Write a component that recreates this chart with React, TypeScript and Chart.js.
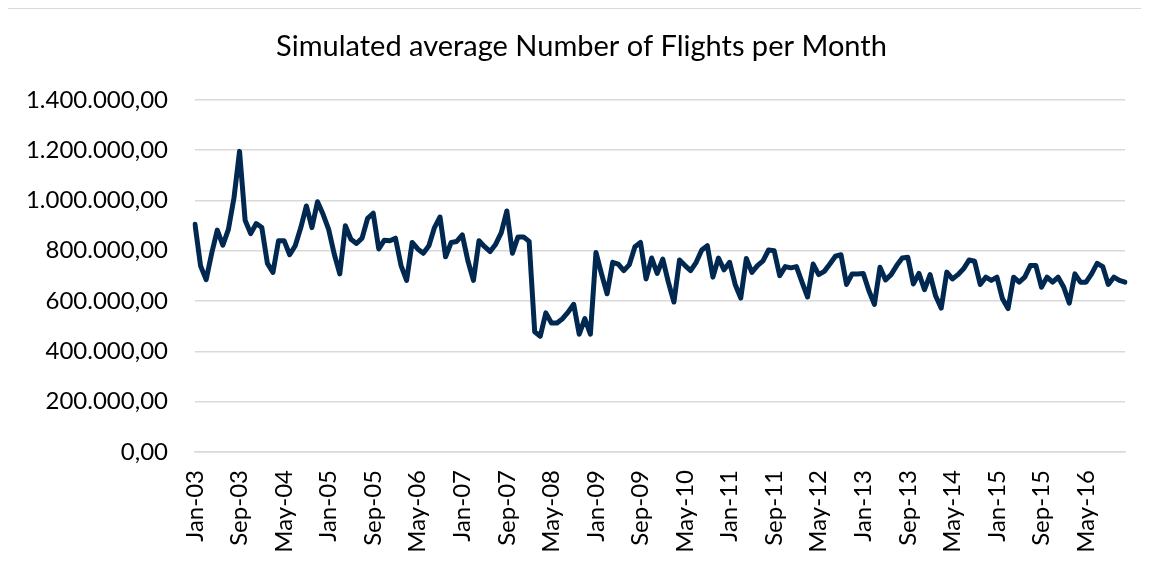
import React, { useEffect, useRef } from "react";
import { Chart, registerables } from "chart.js";

Chart.register(...registerables);

const TITLE = "Simulated average Number of Flights per Month";
const MONTHS = ["Jan", "Feb", "Mar", "Apr", "May", "Jun", "Jul", "Aug", "Sep", "Oct", "Nov", "Dec"];
const YEARS = ["03", "04", "05", "06", "07", "08", "09", "10", "11", "12", "13", "14", "15", "16"];

const Y2003 = [905000, 740000, 685000, 790000, 882000, 822000, 885000, 1010000, 1195000, 921000, 868000, 908000];
const Y2004 = [892000, 750000, 714000, 840000, 840000, 784000, 820000, 892000, 978000, 892000, 995000, 945000];
const Y2005 = [885000, 787000, 708000, 899000, 846000, 829000, 850000, 929000, 949000, 807000, 842000, 840000];
const Y2006 = [850000, 741000, 682000, 833000, 807000, 790000, 820000, 892000, 934000, 776000, 833000, 837000];
const Y2007 = [863000, 760000, 682000, 840000, 816000, 797000, 826000, 872000, 958000, 790000, 855000, 855000];
const Y2008 = [837000, 478000, 460000, 553000, 513000, 513000, 530000, 556000, 587000, 468000, 530000, 468000];
const Y2009 = [793000, 708000, 629000, 754000, 747000, 721000, 745000, 816000, 833000, 688000, 771000, 710000];
const Y2010 = [767000, 675000, 596000, 763000, 741000, 721000, 754000, 803000, 820000, 695000, 771000, 724000];
const Y2011 = [754000, 666000, 612000, 769000, 714000, 741000, 760000, 803000, 800000, 701000, 737000, 732000];
const Y2012 = [737000, 675000, 616000, 747000, 705000, 718000, 747000, 778000, 784000, 666000, 708000, 708000];
const Y2013 = [710000, 642000, 587000, 734000, 684000, 705000, 741000, 771000, 774000, 668000, 710000, 645000];
const Y2014 = [705000, 620000, 572000, 715000, 688000, 705000, 728000, 763000, 758000, 666000, 695000, 682000];
const Y2015 = [695000, 609000, 570000, 695000, 675000, 695000, 741000, 741000, 655000, 695000, 675000, 695000];
const Y2016 = [655000, 592000, 708000, 675000, 675000, 708000, 750000, 737000, 666000, 695000, 682000, 675000];

const SERIES = [Y2003, Y2004, Y2005, Y2006, Y2007, Y2008, Y2009, Y2010, Y2011, Y2012, Y2013, Y2014, Y2015, Y2016];
const Y_MIN = 0;
const Y_MAX = 1400000;
const Y_STEP = 200000;
const LABEL_EVERY = 8;
const TITLE_CENTER_X = 573.5;

function formatDe(v: number): string {
  const int = Math.round(v).toString().replace(/\B(?=(\d{3})+(?!\d))/g, ".");
  return int + ",00";
}

const shiftTitle = {
  id: "shiftTitle",
  afterLayout(chart: any) {
    const tb = chart.titleBlock;
    if (!tb) return;
    const d = TITLE_CENTER_X - (tb.left + tb.right) / 2;
    tb.left += d;
    tb.right += d;
  },
};

export default function App() {
  const ref = useRef<HTMLCanvasElement | null>(null);

  useEffect(() => {
    const canvas = ref.current;
    if (!canvas) return;
    const labels: string[] = [];
    YEARS.forEach((y) => MONTHS.forEach((m) => labels.push(`${m}-${y}`)));
    const values: number[] = ([] as number[]).concat(...SERIES);

    const tickFont = { family: "Lato", size: 24 };
    const chart = new Chart(canvas, {
      type: "line",
      data: {
        labels,
        datasets: [
          {
            data: values,
            borderColor: "#002850",
            backgroundColor: "#002850",
            borderWidth: 5,
            pointRadius: 0,
            tension: 0,
            borderJoinStyle: "round",
            borderCapStyle: "round",
          },
        ],
      },
      plugins: [shiftTitle],
      options: {
        responsive: false,
        animation: false,
        layout: { padding: { left: 0, right: 24, top: 0, bottom: 0 } },
        plugins: {
          legend: { display: false },
          tooltip: { enabled: false },
          title: {
            display: true,
            text: TITLE,
            color: "#000",
            font: { family: "Lato", size: 29, weight: "normal" },
            padding: { top: 20, bottom: 36 },
          },
        },
        scales: {
          x: {
            type: "category",
            offset: false,
            grid: { display: false, drawTicks: false },
            border: { display: true, color: "#d9d9d9", width: 1.5 },
            ticks: {
              autoSkip: false,
              maxRotation: 90,
              minRotation: 90,
              padding: 18,
              color: "#000",
              font: tickFont,
              callback: (_v: any, i: number) => (i % LABEL_EVERY === 0 ? labels[i] : null),
            },
            afterFit: (s: any) => {
              s.height = 113;
            },
          },
          y: {
            min: Y_MIN,
            max: Y_MAX,
            grid: { color: "#d9d9d9", lineWidth: 1.5, drawTicks: false },
            border: { display: false },
            ticks: {
              stepSize: Y_STEP,
              padding: 27,
              color: "#000",
              font: tickFont,
              callback: (v: any) => formatDe(Number(v)),
            },
            afterFit: (s: any) => {
              s.width = 187;
            },
          },
        },
      },
    });
    return () => chart.destroy();
  }, []);

  return (
    <div
      style={{
        position: "relative",
        width: 1141,
        height: 556,
        marginLeft: -1,
        borderLeft: "1px solid #d9d9d9",
        borderTop: "1px solid #d9d9d9",
        background: "#fff",
      }}
    >
      <canvas ref={ref} width={1141} height={556} />
    </div>
  );
}
